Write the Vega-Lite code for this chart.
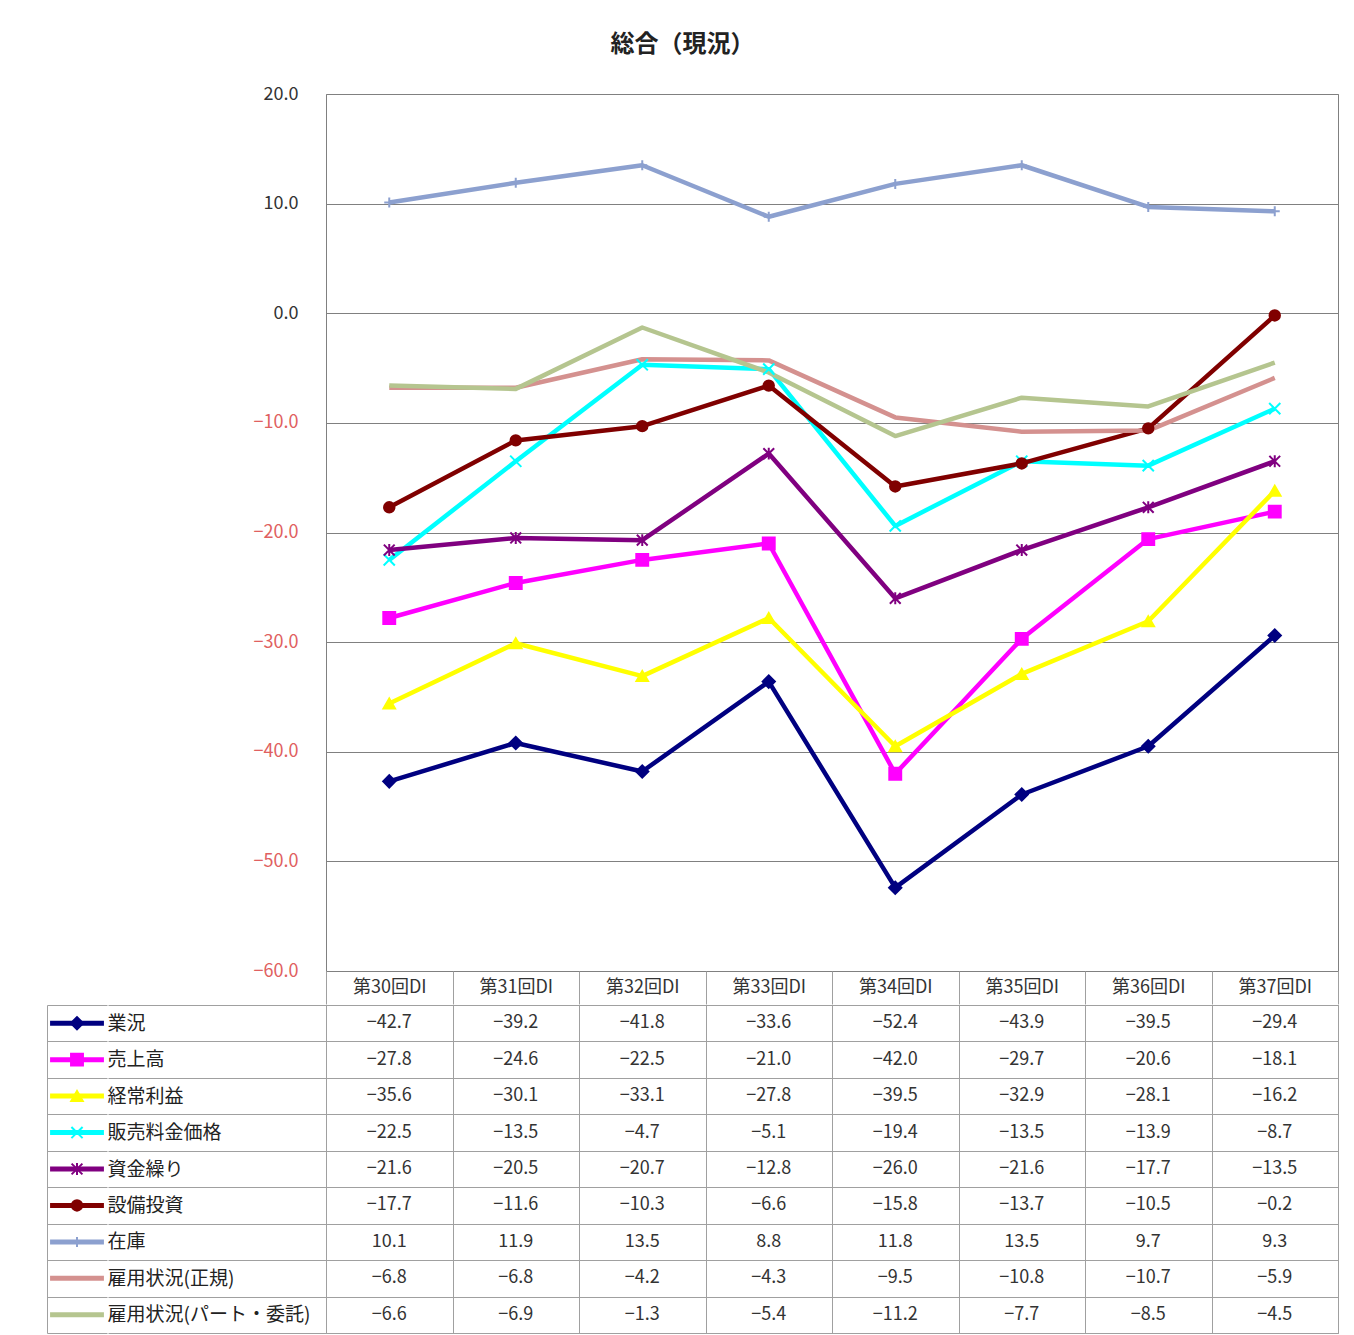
{
  "$schema": "https://vega.github.io/schema/vega-lite/v6.json",
  "padding": {"left": 40, "top": 32, "right": 8, "bottom": 2},
  "title": {"text": "総合（現況）", "fontSize": 24, "fontWeight": "bold", "font": "Noto Sans CJK JP", "color": "#222", "offset": 28, "anchor": "middle", "dx": -7},
  "config": {
    "font": "Noto Sans CJK JP",
    "concat": {"spacing": 0},
    "axis": {"labelFont": "Noto Sans CJK JP"},
    "text": {"font": "Noto Sans CJK JP"}
  },
  "datasets": {
    "dl": [
      {"p": "第30回DI", "s": "業況", "v": -42.7}, {"p": "第31回DI", "s": "業況", "v": -39.2}, {"p": "第32回DI", "s": "業況", "v": -41.8}, {"p": "第33回DI", "s": "業況", "v": -33.6}, {"p": "第34回DI", "s": "業況", "v": -52.4}, {"p": "第35回DI", "s": "業況", "v": -43.9}, {"p": "第36回DI", "s": "業況", "v": -39.5}, {"p": "第37回DI", "s": "業況", "v": -29.4},
      {"p": "第30回DI", "s": "売上高", "v": -27.8}, {"p": "第31回DI", "s": "売上高", "v": -24.6}, {"p": "第32回DI", "s": "売上高", "v": -22.5}, {"p": "第33回DI", "s": "売上高", "v": -21.0}, {"p": "第34回DI", "s": "売上高", "v": -42.0}, {"p": "第35回DI", "s": "売上高", "v": -29.7}, {"p": "第36回DI", "s": "売上高", "v": -20.6}, {"p": "第37回DI", "s": "売上高", "v": -18.1},
      {"p": "第30回DI", "s": "経常利益", "v": -35.6}, {"p": "第31回DI", "s": "経常利益", "v": -30.1}, {"p": "第32回DI", "s": "経常利益", "v": -33.1}, {"p": "第33回DI", "s": "経常利益", "v": -27.8}, {"p": "第34回DI", "s": "経常利益", "v": -39.5}, {"p": "第35回DI", "s": "経常利益", "v": -32.9}, {"p": "第36回DI", "s": "経常利益", "v": -28.1}, {"p": "第37回DI", "s": "経常利益", "v": -16.2},
      {"p": "第30回DI", "s": "販売料金価格", "v": -22.5}, {"p": "第31回DI", "s": "販売料金価格", "v": -13.5}, {"p": "第32回DI", "s": "販売料金価格", "v": -4.7}, {"p": "第33回DI", "s": "販売料金価格", "v": -5.1}, {"p": "第34回DI", "s": "販売料金価格", "v": -19.4}, {"p": "第35回DI", "s": "販売料金価格", "v": -13.5}, {"p": "第36回DI", "s": "販売料金価格", "v": -13.9}, {"p": "第37回DI", "s": "販売料金価格", "v": -8.7},
      {"p": "第30回DI", "s": "資金繰り", "v": -21.6}, {"p": "第31回DI", "s": "資金繰り", "v": -20.5}, {"p": "第32回DI", "s": "資金繰り", "v": -20.7}, {"p": "第33回DI", "s": "資金繰り", "v": -12.8}, {"p": "第34回DI", "s": "資金繰り", "v": -26.0}, {"p": "第35回DI", "s": "資金繰り", "v": -21.6}, {"p": "第36回DI", "s": "資金繰り", "v": -17.7}, {"p": "第37回DI", "s": "資金繰り", "v": -13.5},
      {"p": "第30回DI", "s": "設備投資", "v": -17.7}, {"p": "第31回DI", "s": "設備投資", "v": -11.6}, {"p": "第32回DI", "s": "設備投資", "v": -10.3}, {"p": "第33回DI", "s": "設備投資", "v": -6.6}, {"p": "第34回DI", "s": "設備投資", "v": -15.8}, {"p": "第35回DI", "s": "設備投資", "v": -13.7}, {"p": "第36回DI", "s": "設備投資", "v": -10.5}, {"p": "第37回DI", "s": "設備投資", "v": -0.2},
      {"p": "第30回DI", "s": "在庫", "v": 10.1}, {"p": "第31回DI", "s": "在庫", "v": 11.9}, {"p": "第32回DI", "s": "在庫", "v": 13.5}, {"p": "第33回DI", "s": "在庫", "v": 8.8}, {"p": "第34回DI", "s": "在庫", "v": 11.8}, {"p": "第35回DI", "s": "在庫", "v": 13.5}, {"p": "第36回DI", "s": "在庫", "v": 9.7}, {"p": "第37回DI", "s": "在庫", "v": 9.3},
      {"p": "第30回DI", "s": "雇用状況(正規)", "v": -6.8}, {"p": "第31回DI", "s": "雇用状況(正規)", "v": -6.8}, {"p": "第32回DI", "s": "雇用状況(正規)", "v": -4.2}, {"p": "第33回DI", "s": "雇用状況(正規)", "v": -4.3}, {"p": "第34回DI", "s": "雇用状況(正規)", "v": -9.5}, {"p": "第35回DI", "s": "雇用状況(正規)", "v": -10.8}, {"p": "第36回DI", "s": "雇用状況(正規)", "v": -10.7}, {"p": "第37回DI", "s": "雇用状況(正規)", "v": -5.9},
      {"p": "第30回DI", "s": "雇用状況(パート・委託)", "v": -6.6}, {"p": "第31回DI", "s": "雇用状況(パート・委託)", "v": -6.9}, {"p": "第32回DI", "s": "雇用状況(パート・委託)", "v": -1.3}, {"p": "第33回DI", "s": "雇用状況(パート・委託)", "v": -5.4}, {"p": "第34回DI", "s": "雇用状況(パート・委託)", "v": -11.2}, {"p": "第35回DI", "s": "雇用状況(パート・委託)", "v": -7.7}, {"p": "第36回DI", "s": "雇用状況(パート・委託)", "v": -8.5}, {"p": "第37回DI", "s": "雇用状況(パート・委託)", "v": -4.5}
    ]
  },
  "columns": 2,
  "spacing": {"row": -10, "column": -8},
  "concat": [
    {
      "width": 60,
      "height": 877,
      "data": {"name": "dl"},
      "view": {"stroke": null},
      "mark": {"type": "point", "opacity": 0}
    },
    {
      "width": 1012,
      "height": 877,
      "data": {"name": "dl"},
      "view": {"stroke": "#808080"},
      "encoding": {
        "x": {
          "field": "p", "type": "nominal",
          "sort": ["第30回DI", "第31回DI", "第32回DI", "第33回DI", "第34回DI", "第35回DI", "第36回DI", "第37回DI"],
          "scale": {"paddingInner": 0, "paddingOuter": 0},
          "axis": {"title": null, "orient": "bottom", "tickBand": "extent", "ticks": true, "tickSize": 33, "tickColor": "#a0a0a0", "domain": false, "grid": false, "labelPadding": -17, "labelBaseline": "middle", "labelFontSize": 18, "labelColor": "#333", "labelAngle": 0}
        },
        "y": {
          "field": "v", "type": "quantitative",
          "scale": {"domain": [-60, 20], "nice": false, "zero": false},
          "axis": {"title": null, "values": [-60, -50, -40, -30, -20, -10, 0, 10, 20], "format": ".1f", "grid": true, "gridColor": "#808080", "ticks": false, "tickSize": 0, "domain": false, "labelPadding": 28, "labelFontSize": 18, "labelColor": {"condition": {"test": "datum.value < 0", "value": "#E06060"}, "value": "#333"}, "minExtent": 218, "maxExtent": 218}
        }
      },
      "layer": [
        {
          "mark": {"type": "line", "strokeWidth": 4.5, "strokeJoin": "round"},
          "encoding": {
            "color": {
              "field": "s", "type": "nominal", "legend": null,
              "scale": {
                "domain": ["業況", "売上高", "経常利益", "販売料金価格", "資金繰り", "設備投資", "在庫", "雇用状況(正規)", "雇用状況(パート・委託)"],
                "range": ["#000080", "#FF00FF", "#FFFF00", "#00FFFF", "#800080", "#800000", "#8CA0CF", "#D4918F", "#B5C58F"]
              }
            }
          }
        },
        {
          "transform": [{"filter": {"field": "s", "oneOf": ["業況", "売上高", "経常利益", "販売料金価格", "資金繰り", "設備投資", "在庫"]}}],
          "mark": {"type": "point", "filled": true, "strokeWidth": 2, "opacity": 1},
          "encoding": {
            "fill": {"field": "s", "type": "nominal", "legend": null, "scale": {"domain": ["業況", "売上高", "経常利益", "販売料金価格", "資金繰り", "設備投資", "在庫", "雇用状況(正規)", "雇用状況(パート・委託)"], "range": ["#000080", "#FF00FF", "#FFFF00", "#00FFFF", "#800080", "#800000", "#8CA0CF", "#D4918F", "#B5C58F"]}},
            "stroke": {"field": "s", "type": "nominal", "legend": null, "scale": {"domain": ["業況", "売上高", "経常利益", "販売料金価格", "資金繰り", "設備投資", "在庫", "雇用状況(正規)", "雇用状況(パート・委託)"], "range": ["#000080", "#FF00FF", "#FFFF00", "#00FFFF", "#800080", "#800000", "#8CA0CF", "#D4918F", "#B5C58F"]}},
            "shape": {"field": "s", "type": "nominal", "legend": null, "scale": {"domain": ["業況", "売上高", "経常利益", "販売料金価格", "資金繰り", "設備投資", "在庫"], "range": ["diamond", "square", "triangle-up", "M-1,-1L1,1M-1,1L1,-1", "M-1,-1L1,1M-1,1L1,-1M0,-1.1L0,1.1", "circle", "M-1,0L1,0M0,-1L0,1"]}},
            "size": {"field": "s", "type": "nominal", "legend": null, "scale": {"domain": ["業況", "売上高", "経常利益", "販売料金価格", "資金繰り", "設備投資", "在庫"], "range": [150, 100, 120, 100, 100, 110, 400]}}
          }
        }
      ]
    },
    {
      "width": 60,
      "height": 328,
      "data": {"name": "dl"},
      "view": {"stroke": null},
      "transform": [{"filter": {"field": "p", "equal": "第30回DI"}}],
      "encoding": {
        "y": {
          "field": "s", "type": "nominal",
          "sort": ["業況", "売上高", "経常利益", "販売料金価格", "資金繰り", "設備投資", "在庫", "雇用状況(正規)", "雇用状況(パート・委託)"],
          "scale": {"paddingInner": 0, "paddingOuter": 0},
          "axis": {"title": null, "labels": false, "ticks": false, "tickSize": 0, "domain": true, "domainColor": "#a0a0a0", "grid": true, "gridColor": "#a0a0a0", "tickBand": "extent", "minExtent": 0, "maxExtent": 0}
        }
      },
      "layer": [
        {
          "mark": {"type": "point", "shape": "M-1,0L1,0", "size": 2900, "strokeWidth": 5, "filled": false, "opacity": 1},
          "encoding": {
            "stroke": {
              "field": "s", "type": "nominal", "legend": null,
              "scale": {
                "domain": ["業況", "売上高", "経常利益", "販売料金価格", "資金繰り", "設備投資", "在庫", "雇用状況(正規)", "雇用状況(パート・委託)"],
                "range": ["#000080", "#FF00FF", "#FFFF00", "#00FFFF", "#800080", "#800000", "#8CA0CF", "#D4918F", "#B5C58F"]
              }
            }
          }
        },
        {
          "transform": [{"filter": {"field": "s", "oneOf": ["業況", "売上高", "経常利益", "販売料金価格", "資金繰り", "設備投資", "在庫"]}}],
          "mark": {"type": "point", "filled": true, "strokeWidth": 2, "opacity": 1},
          "encoding": {
            "fill": {"field": "s", "type": "nominal", "legend": null, "scale": {"domain": ["業況", "売上高", "経常利益", "販売料金価格", "資金繰り", "設備投資", "在庫", "雇用状況(正規)", "雇用状況(パート・委託)"], "range": ["#000080", "#FF00FF", "#FFFF00", "#00FFFF", "#800080", "#800000", "#8CA0CF", "#D4918F", "#B5C58F"]}},
            "stroke": {"field": "s", "type": "nominal", "legend": null, "scale": {"domain": ["業況", "売上高", "経常利益", "販売料金価格", "資金繰り", "設備投資", "在庫", "雇用状況(正規)", "雇用状況(パート・委託)"], "range": ["#000080", "#FF00FF", "#FFFF00", "#00FFFF", "#800080", "#800000", "#8CA0CF", "#D4918F", "#B5C58F"]}},
            "shape": {"field": "s", "type": "nominal", "legend": null, "scale": {"domain": ["業況", "売上高", "経常利益", "販売料金価格", "資金繰り", "設備投資", "在庫"], "range": ["diamond", "square", "triangle-up", "M-1,-1L1,1M-1,1L1,-1", "M-1,-1L1,1M-1,1L1,-1M0,-1.1L0,1.1", "circle", "M-1,0L1,0M0,-1L0,1"]}},
            "size": {"field": "s", "type": "nominal", "legend": null, "scale": {"domain": ["業況", "売上高", "経常利益", "販売料金価格", "資金繰り", "設備投資", "在庫"], "range": [150, 100, 120, 100, 100, 110, 200]}}
          }
        }
      ]
    },
    {
      "width": 1012,
      "height": 328,
      "data": {"name": "dl"},
      "view": {"stroke": "#a0a0a0"},
      "mark": {"type": "text", "fontSize": 18, "color": "#333"},
      "encoding": {
        "x": {
          "field": "p", "type": "nominal",
          "sort": ["第30回DI", "第31回DI", "第32回DI", "第33回DI", "第34回DI", "第35回DI", "第36回DI", "第37回DI"],
          "scale": {"paddingInner": 0, "paddingOuter": 0},
          "axis": {"title": null, "labels": false, "ticks": false, "domain": false, "grid": true, "gridColor": "#a0a0a0", "tickBand": "extent"}
        },
        "y": {
          "field": "s", "type": "nominal",
          "sort": ["業況", "売上高", "経常利益", "販売料金価格", "資金繰り", "設備投資", "在庫", "雇用状況(正規)", "雇用状況(パート・委託)"],
          "scale": {"paddingInner": 0, "paddingOuter": 0},
          "axis": {"title": null, "grid": true, "gridColor": "#a0a0a0", "tickBand": "extent", "ticks": true, "tickSize": 218, "tickColor": "#a0a0a0", "domain": false, "labelAlign": "left", "labelPadding": 1, "labelFontSize": 19, "labelColor": "#222", "labelLimit": 300, "minExtent": 218, "maxExtent": 218}
        },
        "text": {"field": "v", "type": "quantitative", "format": ".1f"}
      }
    }
  ]
}
